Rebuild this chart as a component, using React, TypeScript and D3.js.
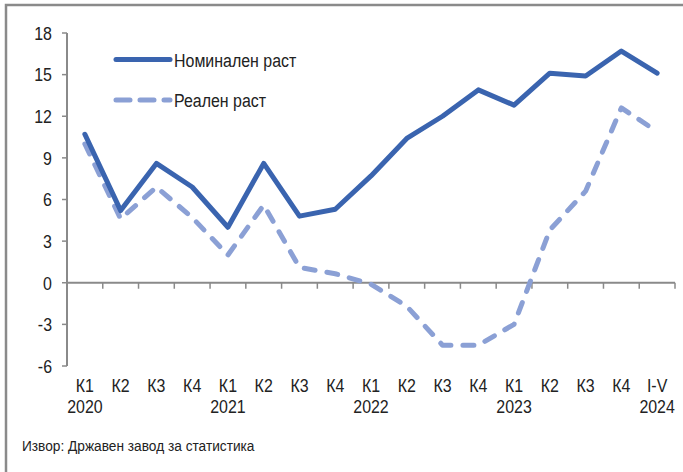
import * as d3 from 'd3'

const QUARTERS = ['К1', 'К2', 'К3', 'К4', 'К1', 'К2', 'К3', 'К4', 'К1', 'К2', 'К3', 'К4', 'К1', 'К2', 'К3', 'К4', 'I-V']
const YEARS = ['2020', '', '', '', '2021', '', '', '', '2022', '', '', '', '2023', '', '', '', '2024']
const NOMINAL = [10.7, 5.2, 8.6, 6.9, 4.0, 8.6, 4.8, 5.3, 7.7, 10.4, 12.0, 13.9, 12.8, 15.1, 14.9, 16.7, 15.1]
const REAL = [10.0, 4.6, 6.9, 4.7, 2.0, 5.6, 1.1, 0.65, -0.1, -1.7, -4.5, -4.5, -3.0, 3.8, 6.6, 12.6, 10.9]
const Y_TICKS = [-6, -3, 0, 3, 6, 9, 12, 15, 18]

const WIDTH = 683
const HEIGHT = 472
const PLOT = { left: 67, right: 675, top: 33, bottom: 366 }

const NOM_COLOR = '#3a64af'
const REAL_COLOR = '#8ba0d5'
const AXIS_COLOR = '#8a8a8a'
const FONT = "'Liberation Sans', Arial, sans-serif"

// condensed text: the original uses a narrow face, so squeeze horizontally
function NText({ x, y, size = 19, sx = 0.84, anchor = 'start', dy, children }: any) {
  return (
    <g transform={`translate(${x},${y}) scale(${sx},1)`}>
      <text x={0} y={0} dy={dy} textAnchor={anchor} fontSize={size} fill="#222">{children}</text>
    </g>
  )
}

export default function App() {
  const idx = QUARTERS.map((_, i) => String(i))

  const x = d3.scaleBand().domain(idx).range([PLOT.left, PLOT.right])
  const y = d3.scaleLinear().domain([-6, 18]).range([PLOT.bottom, PLOT.top])
  const cx = (i: number) => (x(String(i)) as number) + x.bandwidth() / 2

  const line = d3.line<number>()
    .x((_, i) => cx(i))
    .y(d => y(d))

  const ticksX = d3.range(QUARTERS.length + 1).map(i => PLOT.left + i * x.bandwidth())

  return (
    <svg width={WIDTH} height={HEIGHT} style={{ position: 'absolute', left: 0, top: 0, fontFamily: FONT }}>
      <rect x={0} y={0} width={WIDTH} height={HEIGHT} fill="#fff" />
      {/* outer frame, cut off at right and bottom */}
      <rect x={6} y={5} width={WIDTH + 10} height={HEIGHT + 10} fill="none" stroke={AXIS_COLOR} strokeWidth={2.5} />

      {/* y axis */}
      <line x1={PLOT.left} x2={PLOT.left} y1={y(18)} y2={y(-6)} stroke={AXIS_COLOR} strokeWidth={2} />
      {Y_TICKS.map(t => (
        <g key={t}>
          <line x1={PLOT.left - 5} x2={PLOT.left} y1={y(t)} y2={y(t)} stroke={AXIS_COLOR} strokeWidth={1.5} />
          <NText x={52} y={y(t)} dy="0.36em" anchor="end">{t}</NText>
        </g>
      ))}

      {/* x axis at zero */}
      <line x1={PLOT.left} x2={PLOT.right} y1={y(0)} y2={y(0)} stroke={AXIS_COLOR} strokeWidth={2} />
      {ticksX.map((tx, i) => (
        <line key={i} x1={tx} x2={tx} y1={y(0)} y2={y(0) + 6} stroke={AXIS_COLOR} strokeWidth={1.5} />
      ))}
      {QUARTERS.map((q, i) => (
        <NText key={'q' + i} x={cx(i)} y={392} anchor="middle">{q}</NText>
      ))}
      {YEARS.map((yr, i) => yr && (
        <NText key={'y' + i} x={cx(i)} y={413} anchor="middle">{yr}</NText>
      ))}

      {/* series */}
      <path d={line(REAL) ?? ''} fill="none" stroke={REAL_COLOR} strokeWidth={5}
        strokeDasharray="11,12" strokeLinecap="round" strokeLinejoin="round" />
      <path d={line(NOMINAL) ?? ''} fill="none" stroke={NOM_COLOR} strokeWidth={5}
        strokeLinecap="round" strokeLinejoin="round" />

      {/* legend */}
      <line x1={116} x2={170} y1={59.5} y2={59.5} stroke={NOM_COLOR} strokeWidth={5} strokeLinecap="round" />
      <NText x={174} y={66.5}>Номинален раст</NText>
      <line x1={116} x2={170} y1={100} y2={100} stroke={REAL_COLOR} strokeWidth={5}
        strokeDasharray="14,10" strokeLinecap="round" />
      <NText x={174} y={107}>Реален раст</NText>

      <NText x={22} y={451} size={14.5} sx={0.945}>Извор: Државен завод за статистика</NText>
    </svg>
  )
}
